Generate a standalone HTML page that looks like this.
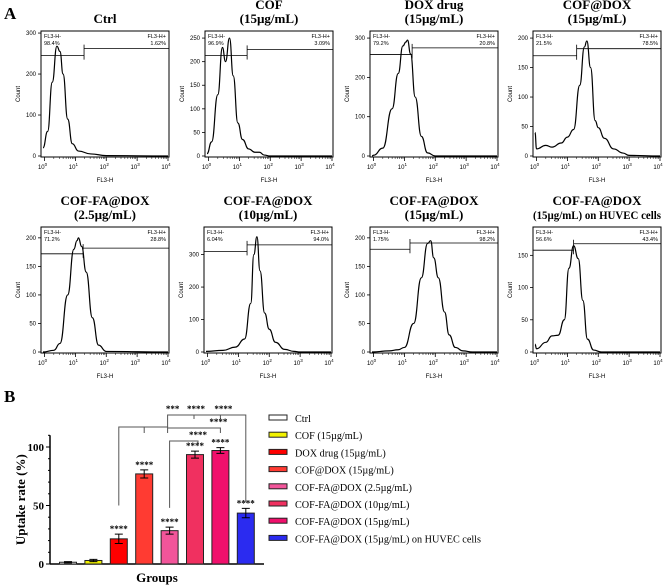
<!DOCTYPE html>
<html><head><meta charset="utf-8"><style>
body{margin:0;background:#fff;}
svg{display:block;}
.t{font-family:"Liberation Serif",serif;font-weight:bold;}
.s{font-family:"Liberation Sans",sans-serif;}
</style></head><body>
<svg id="fig" width="669" height="587" viewBox="0 0 669 587" xmlns="http://www.w3.org/2000/svg">
<text class="t" x="4" y="19" font-size="17">A</text>
<text class="t" x="4" y="402" font-size="17">B</text>
<g id="hist"></g>
<g id="bars"></g>
</svg>
<script>
// ---------- Histogram data ----------
const histTitles = [["Ctrl"],["COF","(15µg/mL)"],["DOX drug","(15µg/mL)"],["COF@DOX","(15µg/mL)"],
 ["COF-FA@DOX","(2.5µg/mL)"],["COF-FA@DOX","(10µg/mL)"],["COF-FA@DOX","(15µg/mL)"],["COF-FA@DOX","(15µg/mL) on HUVEC cells"]];
const histNeg = ["98.4%","96.9%","79.2%","21.5%","71.2%","6.04%","1.75%","56.6%"];
const histPos = ["1.62%","3.09%","20.8%","78.5%","28.8%","94.0%","98.2%","43.4%"];
const histYMax = [305,265,318,212,219,385,219,194];
const histYTicks = [[0,100,200,300],[0,50,100,150,200,250],[0,100,200,300],[0,50,100,150,200],[0,50,100,150,200],[0,100,200,300],[0,50,100,150,200],[0,50,100,150]];
const gateX = [1.28,1.25,1.25,1.3,1.25,1.28,1.18,1.2];
const gateLeftY = [245,213,258,170,172,310,180,158];
const gateRightY = [262,226,275,182,182,330,191,168];
const curveLogX = [
 [-0.05,0.1,0.25,0.4,0.5,0.6,0.75,0.9,1.1,1.5,2,4],
 [-0.05,0.1,0.3,0.45,0.55,0.68,0.8,0.95,1.1,1.3,1.5,1.65,1.8,2,4],
 [-0.05,0,0.3,0.6,0.8,0.95,1.05,1.1,1.2,1.35,1.55,1.75,2,4],
 [-0.05,0,0.3,0.5,0.8,1,1.2,1.4,1.55,1.63,1.75,1.9,2,2.2,2.5,2.8,3,4],
 [-0.05,0.3,0.5,0.75,0.95,1.05,1.1,1.2,1.35,1.55,1.75,2,4],
 [-0.05,0.5,0.9,1.2,1.4,1.5,1.6,1.7,1.85,2,2.2,2.5,2.8,3,4],
 [-0.05,0.5,0.8,1,1.3,1.55,1.75,1.85,1.95,2.1,2.3,2.45,2.65,2.9,3.2,4],
 [-0.05,0,0.3,0.5,0.7,0.9,1.05,1.2,1.35,1.5,1.65,1.85,2.1,4]];
const curveCount = [
 [20,60,180,268,255,200,90,30,12,5,1,0],
 [5,30,130,230,200,250,170,70,35,15,8,8,2,0,0],
 [0,2,20,120,210,280,290,295,260,150,50,8,0,0],
 [40,12,18,15,22,32,45,120,185,195,150,60,48,30,12,5,1,0],
 [0,3,15,100,180,195,200,185,140,60,12,1,0],
 [2,5,15,40,150,300,355,250,120,70,30,8,2,0,0],
 [0,2,4,8,50,130,190,195,165,130,70,30,8,2,0,0],
 [12,5,15,25,26,50,130,165,145,80,20,3,0,0]];
const histBoxX = [41,205,370,533,41,204,370,533];
const histBoxY = [31,31,31,31,227,227,227,227];
const BW=128, BH=126;
const NS="http://www.w3.org/2000/svg";
function mk(tag,attrs,parent,txt){const e=document.createElementNS(NS,tag);for(const k in attrs)e.setAttribute(k,attrs[k]);if(txt!==undefined)e.textContent=txt;parent.appendChild(e);return e;}
const hg=document.getElementById('hist');
for(let p=0;p<8;p++){
 const x0=histBoxX[p],y0=histBoxY[p];
 const sx=v=>x0+2+(v+0.05)/4.05*(BW-3);
 const sy=v=>y0+BH-1-v/histYMax[p]*(BH-1);
 const g=mk('g',{},hg);
 
 
 const cx=x0+BW/2;
 const tl=histTitles[p];
 tl.forEach((l,i)=>{const a={class:'t',x:cx,y:(tl.length===1?y0-8:y0-22+i*14),'font-size':13,'text-anchor':'middle'};
  if(l.length>20){a['font-size']=12;a.textLength=128;a.lengthAdjust='spacingAndGlyphs';}
  const t=mk('text',a,g,l);
  });
 const box=mk('rect',{x:x0,y:y0,width:BW,height:BH,fill:'none',stroke:'#000','stroke-width':1},g);
 
 histYTicks[p].forEach(v=>{const y=sy(v);mk('line',{x1:x0-3,x2:x0,y1:y,y2:y,stroke:'#000','stroke-width':0.8},g);
  const t=mk('text',{class:'s',x:x0-5,y:y+2,'font-size':6,'text-anchor':'end'},g,v);
  });
 for(let d=0;d<=4;d++){const x=sx(d);mk('line',{x1:x,x2:x,y1:y0+BH,y2:y0+BH+4,stroke:'#000','stroke-width':0.8},g);
  for(let m=2;m<10&&d<4;m++){const xm=sx(d+Math.log10(m));mk('line',{x1:xm,x2:xm,y1:y0+BH,y2:y0+BH+2,stroke:'#000','stroke-width':0.5},g);}
  const t=mk('text',{class:'s',x:x-2,y:y0+BH+12,'font-size':6,'text-anchor':'middle'},g);
  
  t.textContent='10';mk('tspan',{dy:-3,'font-size':4.5},t,d);}
 const xl=mk('text',{class:'s',x:cx,y:y0+BH+25,'font-size':6,'text-anchor':'middle'},g,'FL3-H');
 
 const yl=mk('text',{class:'s',x:0,y:0,'font-size':6,'text-anchor':'middle',transform:`translate(${x0-21},${y0+BH/2}) rotate(-90)`},g,'Count');
 
 [['FL3-H-',x0+3,'start',histNeg[p]],['FL3-H+',x0+BW-3,'end',histPos[p]]].forEach(a=>{
  const t1=mk('text',{class:'s',x:a[1],y:y0+7,'font-size':5.5,'text-anchor':a[2]},g,a[0]);
  
  const t2=mk('text',{class:'s',x:a[1],y:y0+14,'font-size':5.5,'text-anchor':a[2]},g,a[3]);
  });
 const gx=sx(gateX[p]);
 mk('line',{x1:x0,x2:gx,y1:sy(gateLeftY[p]),y2:sy(gateLeftY[p]),stroke:'#000','stroke-width':0.8},g);
 mk('line',{x1:gx,x2:x0+BW,y1:sy(gateRightY[p]),y2:sy(gateRightY[p]),stroke:'#000','stroke-width':0.8},g);
 mk('line',{x1:gx,x2:gx,y1:sy(gateLeftY[p])+4,y2:sy(gateRightY[p])-4,stroke:'#000','stroke-width':0.8},g);
 const xs=curveLogX[p],ys=curveCount[p];
 let d='M'+sx(xs[0])+','+sy(ys[0]);
 for(let i=1;i<xs.length;i++){const xa=sx(xs[i-1]),xb=sx(xs[i]),ya=sy(ys[i-1]),yb=sy(ys[i]);const mx=(xa+xb)/2;d+=` C${mx},${ya} ${mx},${yb} ${xb},${yb}`;}
 const c=mk('path',{d:d,fill:'none',stroke:'#000','stroke-width':1.2},g);
 
}
// ---------- Bar chart data ----------
const barGroups=["Ctrl","COF (15µg/mL)","DOX drug (15µg/mL)","COF@DOX (15µg/mL)","COF-FA@DOX (2.5µg/mL)","COF-FA@DOX (10µg/mL)","COF-FA@DOX (15µg/mL)","COF-FA@DOX (15µg/mL) on HUVEC cells"];
const barValues=[1.5,3,21.5,77,28.5,93.5,97,43.5];
const barErrors=[0.5,1,4,3.5,3,3,2.5,4];
const barStars=["","","****","****","****","****","****","****"];
const barColors=["#ffffff","#f2f200","#ff0000","#ff3b32","#f2559a","#f03060","#f0106c","#2b2bf0"];
const yTickVals=[0,50,100];
const bg=document.getElementById('bars');
const AX=50,X1=264,Y0=564,PX=1.17;
const by=v=>Y0-v*PX;
const bx=i=>68+i*25.4;
mk('line',{x1:AX,x2:AX,y1:Y0,y2:by(110),stroke:'#000','stroke-width':1.5},bg);
mk('line',{x1:AX,x2:X1,y1:Y0,y2:Y0,stroke:'#000','stroke-width':1.5},bg);
for(let v=0;v<=110;v+=10){mk('line',{x1:AX-(v%50===0?4:2),x2:AX,y1:by(v),y2:by(v),stroke:'#000','stroke-width':1},bg);}
yTickVals.forEach(v=>{const t=mk('text',{class:'t',x:AX-6,y:by(v)+4,'font-size':11,'text-anchor':'end'},bg,v);
 });
const yt=mk('text',{class:'t',x:0,y:0,'font-size':13,'text-anchor':'middle',transform:`translate(25,${by(55)}) rotate(-90)`},bg,'Uptake rate (%)');

const xt=mk('text',{class:'t',x:157,y:582,'font-size':13,'text-anchor':'middle'},bg,'Groups');

barValues.forEach((v,i)=>{
 const r=mk('rect',{x:bx(i)-8.5,y:by(v),width:17,height:v*PX,fill:barColors[i],stroke:'#222','stroke-width':1},bg);
 
 const e=barErrors[i],c=bx(i);
 mk('path',{d:`M${c},${by(v)} V${by(v+e)} M${c-4},${by(v+e)} H${c+4} M${c-4},${by(v-e)} H${c+4} M${c},${by(v)} V${by(v-e)}`,stroke:'#000','stroke-width':1,fill:'none'},bg);
 if(barStars[i]){const t=mk('text',{class:'t',x:c,y:by(v+e)-2,'font-size':9,'text-anchor':'middle'},bg,barStars[i]);
  }
 const ly=418+i*17.2;
 const lr=mk('rect',{x:269,y:ly-3,width:18,height:5,fill:barColors[i],stroke:'#222','stroke-width':1},bg);
 
 const lt=mk('text',{x:295,y:ly+4,'font-size':10.2,'font-family':'Liberation Serif, serif'},bg,barGroups[i]);
 
});
// significance brackets
const br=[
 `M${bx(2)},${by(50)} V427 H${bx(4)-2} V433 M${bx(3)},427 V433`,
 `M${bx(4)-2},427 V415 H${bx(7)} V${by(53)} M${bx(5)-1},415 V419 M${bx(6)},415 V419`,
 `M${bx(4)-2},428 H${bx(6)} V433`,
 `M${bx(4)},${by(48)} V441 H${bx(5)+3} V445`];
br.forEach(d=>{const p=mk('path',{d:d,fill:'none',stroke:'#555','stroke-width':1},bg);});
[["***",bx(4)+3,412],["****",bx(5)+1,412],["****",bx(6)+3,412],["****",bx(6)-2,425],["****",bx(5)+3,438]].forEach(s=>{
 const t=mk('text',{class:'t',x:s[1],y:s[2],'font-size':9,'text-anchor':'middle'},bg,s[0]);
 });
</script>
</body></html>
